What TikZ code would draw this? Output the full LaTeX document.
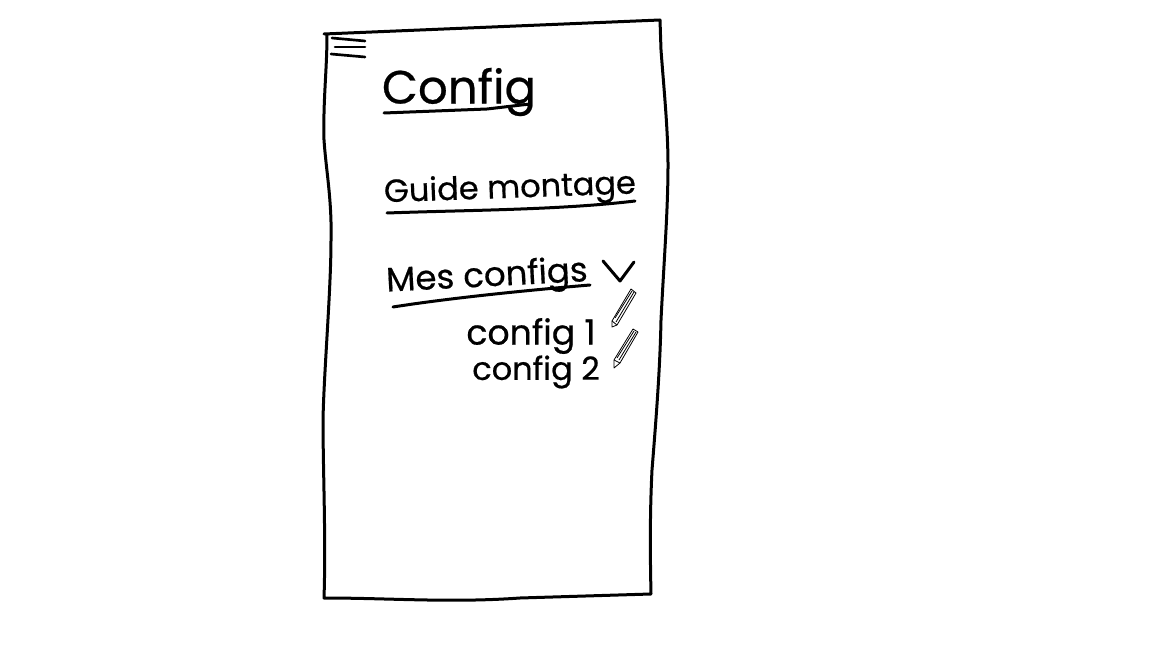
\documentclass[tikz,border=0pt]{standalone}
\usepackage{fontspec}
\setmainfont[FakeBold=0.5]{Poppins}
\usepackage{tikz}
\tikzset{
  sketchline/.style={line width=2.25pt,line cap=round,line join=round,color=black},
  thinline/.style={line width=0.6pt,line join=round,color=black,fill=white},
  handtext/.style={inner sep=0.75pt,color=black},
}
\begin{document}
\begin{tikzpicture}[x=0.75pt,y=0.75pt,yscale=-1,xscale=1]
  \useasboundingbox (0,0) rectangle (1152,648);

  %Page outline
  \draw [sketchline] (324,34) -- (660,20) -- (661,50) .. controls (664,90) and (668,130) .. (668,165) .. controls (668,210) and (664,260) .. (661,320) .. controls (660,370) and (656,420) .. (652,470) .. controls (650,510) and (650,550) .. (651,594) -- (520,598) .. controls (450,603) and (390,598) .. (324,598) .. controls (326,540) and (323,470) .. (323,420) .. controls (324,370) and (331,290) .. (331,240) .. controls (332,200) and (326,170) .. (324,140) .. controls (323,100) and (327,70) .. (327,34);

  %Menu icon
  \draw [sketchline,line width=2pt] (332,38) -- (365,41);
  \draw [sketchline,line width=2pt] (335,47) -- (365,47);
  \draw [sketchline,line width=2pt] (331,54) -- (365,57);

  % Text Node
  \node (title) [handtext] at (459,92) {\fontsize{35}{40}\selectfont Config};
  % Text Node
  \node (guide) [handtext,rotate=2] at (510,190) {\fontsize{24}{30}\selectfont Guide montage};
  % Text Node
  \node (mine) [handtext,rotate=3] at (487,278) {\fontsize{25.5}{30}\selectfont Mes configs};
  % Text Node
  \node (first) [handtext] at (531,336) {\fontsize{26}{30}\selectfont config 1};
  % Text Node
  \node (second) [handtext] at (536,372) {\fontsize{24}{28}\selectfont config 2};

  %Underlines
  \draw [sketchline] (384,113) -- (487,109) -- (530,104);
  \draw [sketchline] (387,213) .. controls (470,210) and (560,210) .. (635,201);
  \draw [sketchline] (393,307) .. controls (450,298) and (530,290) .. (590,285);

  %Chevron
  \draw [sketchline] (603,261) -- (620,281) -- (634,262);

  %Pencil 1
  \draw [thinline] (612,321) -- (631,289) -- (636,293) -- (617,325) -- (612,327) -- cycle;
  \draw [thinline] (612,321) -- (617,325);
  \draw [thinline] (615,318) -- (632,291);
  \draw [thinline] (616,322) -- (634,292);
  %Pencil 2
  \draw [thinline] (614,360) -- (633,329) -- (638,332) -- (620,363) -- (614,368) -- cycle;
  \draw [thinline] (614,360) -- (620,363);
  \draw [thinline] (617,358) -- (634,331);
  \draw [thinline] (619,360) -- (636,332);
\end{tikzpicture}
\end{document}
